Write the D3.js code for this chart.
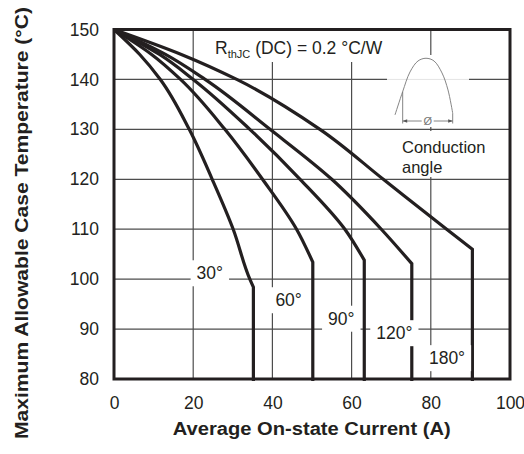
<!DOCTYPE html>
<html>
<head>
<meta charset="utf-8">
<script src="https://cdn.jsdelivr.net/npm/d3@7"></script>
<style>
  body { margin: 0; background: #fff; }
  svg text { font-family: "Liberation Sans", Arial, Helvetica, sans-serif; fill: #231f20; }
</style>
</head>
<body>
<svg width="524" height="454"></svg>
<script>
// tick values of the chart
const xTicks = [0, 20, 40, 60, 80, 100];
const yTicks = [80, 90, 100, 110, 120, 130, 140, 150];

// conduction angles and their curves: [current (A), case temperature (°C)]
const angleNames = ['30°', '60°', '90°', '120°', '180°'];
const curve30 = [[0, 150], [6.5, 145], [11.7, 140], [19.0, 130], [24.8, 120], [30.1, 110], [34.3, 100], [35.2, 98.4], [35.2, 80]];
const curve60 = [[0, 150], [9.5, 145], [16.8, 140], [28.0, 130], [37.5, 120], [46.1, 110], [50.2, 103.4], [50.2, 80]];
const curve90 = [[0, 150], [11.5, 145], [20.0, 140], [34.3, 130], [47.0, 120], [58.3, 110], [63.2, 103.8], [63.2, 80]];
const curve120 = [[0, 150], [13.0, 145], [23.0, 140], [39.4, 130], [55.0, 120], [67.5, 110], [75.2, 103.1], [75.2, 80]];
const curve180 = [[0, 150], [17.0, 145], [31.0, 140], [52.0, 130], [68.0, 120], [84.0, 110], [90.5, 106], [90.5, 80]];
const curves = [curve30, curve60, curve90, curve120, curve180];

// where the angle labels sit (data units)
const angleLabelAt = [[24.2, 101.2], [44.1, 95.8], [57.4, 92.1], [70.8, 89.2], [84.1, 84.2]];

// the little conduction-angle sketch (data units)
const wavePts = [[70.96, 132.9], [72.9, 137.56], [74.75, 141.5], [76.77, 143.7], [78.79, 144.24],
                 [80.81, 143.7], [82.83, 141.3], [84.34, 137.9], [85.53, 133.24]];

const xTitle = 'Average On-state Current (A)';
const yTitle = 'Maximum Allowable Case Temperature (°C)';

const svg = d3.select('svg');
const x = d3.scaleLinear().domain([0, 100]).range([114, 510]);
const y = d3.scaleLinear().domain([80, 150]).range([379, 29.5]);

// grid
const grid = svg.append('g').attr('stroke', '#4d4d4d').attr('stroke-width', 1.2);
grid.selectAll('.gx').data(xTicks.slice(1, -1)).enter().append('line')
    .attr('x1', d => x(d)).attr('x2', d => x(d)).attr('y1', y(150)).attr('y2', y(80));
grid.selectAll('.gy').data(yTicks.slice(1, -1)).enter().append('line')
    .attr('x1', x(0)).attr('x2', x(100)).attr('y1', d => y(d)).attr('y2', d => y(d));

// white patches behind the annotations
svg.append('rect').attr('x', 205).attr('y', 31).attr('width', 183).attr('height', 31).attr('fill', '#fff');
svg.append('rect').attr('x', 387).attr('y', 55).attr('width', 82).attr('height', 72).attr('fill', '#fff');
svg.append('rect').attr('x', 396).attr('y', 131).attr('width', 108).attr('height', 46).attr('fill', '#fff');
svg.append('line').attr('x1', 387).attr('x2', 469).attr('y1', y(140)).attr('y2', y(140))
    .attr('stroke', '#e4e4e4').attr('stroke-width', 1);

// curves: smooth part, then straight drop at the knee
const smooth = d3.line().x(d => x(d[0])).y(d => y(d[1])).curve(d3.curveMonotoneY);
svg.append('g').selectAll('path').data(curves).enter().append('path')
    .attr('d', pts => {
        const last = pts[pts.length - 1];
        return smooth(pts.slice(0, -1)) + `L${x(last[0])},${y(last[1]) + 2}`;
    })
    .attr('fill', 'none').attr('stroke', '#231f20').attr('stroke-width', 3.2)
    .attr('stroke-linejoin', 'miter');

// angle labels on white boxes
const lab = svg.append('g').selectAll('g').data(angleNames).enter().append('g');
lab.append('text')
    .attr('x', (d, i) => x(angleLabelAt[i][0]))
    .attr('y', (d, i) => y(angleLabelAt[i][1]))
    .attr('text-anchor', 'middle').attr('dy', '0.35em')
    .attr('font-size', 17.5).text(d => d);
lab.each(function () {
    const g = d3.select(this);
    const b = g.select('text').node().getBBox();
    g.insert('rect', 'text').attr('x', b.x - 6).attr('y', b.y - 3)
        .attr('width', b.width + 12).attr('height', b.height + 6).attr('fill', '#fff');
});

// axes (labels only, the frame is drawn below)
const xAxis = svg.append('g').attr('transform', `translate(0,${y(80)})`)
    .call(d3.axisBottom(x).tickValues(xTicks).tickSize(0).tickPadding(18));
const yAxis = svg.append('g').attr('transform', `translate(${x(0)},0)`)
    .call(d3.axisLeft(y).tickValues(yTicks).tickSize(0).tickPadding(15));
[xAxis, yAxis].forEach(a => {
    a.select('.domain').remove();
    a.attr('font-family', null);
    a.selectAll('text').attr('font-size', 17.5).style('fill', '#231f20');
});

// frame
svg.append('rect').attr('x', x(0)).attr('y', y(150)).attr('width', x(100) - x(0)).attr('height', y(80) - y(150))
    .attr('fill', 'none').attr('stroke', '#231f20').attr('stroke-width', 3);

// thermal resistance note
const rth = svg.append('text').attr('x', 215).attr('y', 54).attr('font-size', 17.5);
rth.append('tspan').text('R');
rth.append('tspan').attr('font-size', 11).attr('dy', 4).text('thJC');
rth.append('tspan').attr('dy', -4).text(' (DC) = 0.2 °C/W');

// conduction angle sketch
const sketch = svg.append('g').attr('stroke', '#777').attr('stroke-width', 0.9).attr('fill', 'none');
sketch.append('path').attr('d', d3.line().x(d => x(d[0])).y(d => y(d[1])).curve(d3.curveCatmullRom)(wavePts));
svg.append('defs').append('marker').attr('id', 'ah').attr('viewBox', '0 0 10 10')
    .attr('refX', 10).attr('refY', 5).attr('markerWidth', 6).attr('markerHeight', 5).attr('orient', 'auto-start-reverse')
    .append('path').attr('d', 'M0,1L10,5L0,9Z').attr('fill', '#555');
const xl = x(wavePts[1][0]), xr = x(wavePts[wavePts.length - 1][0]);
sketch.append('line').attr('x1', xl).attr('x2', xl).attr('y1', y(wavePts[1][1])).attr('y2', 123.5);
sketch.append('line').attr('x1', xr).attr('x2', xr).attr('y1', y(wavePts[wavePts.length - 1][1])).attr('y2', 123.5);
sketch.append('line').attr('x1', xl).attr('x2', xr).attr('y1', 121).attr('y2', 121)
    .attr('marker-start', 'url(#ah)').attr('marker-end', 'url(#ah)');
svg.append('rect').attr('x', (xl + xr) / 2 - 6).attr('y', 115).attr('width', 12).attr('height', 12).attr('fill', '#fff');
svg.append('text').attr('x', (xl + xr) / 2).attr('y', 121).attr('dy', '0.35em').attr('text-anchor', 'middle')
    .attr('font-size', 11).style('fill', '#777').text('Ø');

// two-line caption
svg.append('text').attr('x', 402).attr('y', 152.5).attr('font-size', 16.5).text('Conduction');
svg.append('text').attr('x', 402).attr('y', 172.5).attr('font-size', 16.5).text('angle');

// axis titles
svg.append('text').attr('x', 311.7).attr('y', 435).attr('text-anchor', 'middle')
    .attr('font-size', 18).attr('font-weight', 'bold')
    .attr('textLength', 278).attr('lengthAdjust', 'spacingAndGlyphs').text(xTitle);
svg.append('text').attr('transform', 'translate(28,223) rotate(-90)').attr('text-anchor', 'middle')
    .attr('font-size', 18).attr('font-weight', 'bold')
    .attr('textLength', 432).attr('lengthAdjust', 'spacingAndGlyphs').text(yTitle);
</script>
</body>
</html>
